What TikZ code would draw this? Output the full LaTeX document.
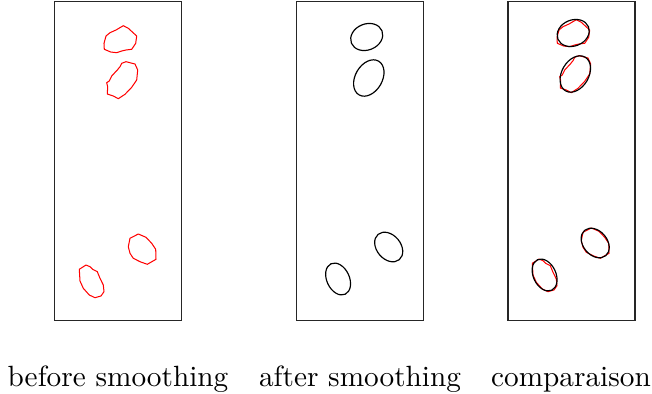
\documentclass[tikz,border=0pt]{standalone}
\usetikzlibrary{positioning}

\tikzset{
  frame/.style={draw=black!85, line width=0.35pt},
  raw/.style={draw=red, line width=0.35pt, line join=round},
  fitted/.style={draw=black, line width=0.4pt},
  caption/.style={anchor=base, inner sep=0pt}
}

% contours as extracted (red)
\newcommand{\rawblobs}{%
  \draw[raw] plot coordinates {(123.3,25.7) (128.3,28.3) (136.7,36) (135.7,43.3) (131.7,49.3) (126,50)
    (121.7,51) (116.7,52.7) (110.7,52) (104.3,49.3) (104,43.3) (106,36) (110,32.7) (116,30)} -- cycle;
  \draw[raw] plot coordinates {(126,61.7) (135,64) (137.7,70) (136.7,80) (131.7,87.3) (125,94.3)
    (118.3,98.7) (113.3,96) (107.3,94) (107.7,86.7) (106.7,82.7) (109.3,81) (111.7,76) (117.3,70)
    (120,66.7) (121.7,63.3)} -- cycle;
  \draw[raw] plot coordinates {(138.3,234) (146,237.3) (151.7,243.3) (155.7,249.3) (156,259.3)
    (147.3,264.3) (140,261.7) (133.3,258.3) (130,253.3) (128.3,246.7) (130,238.3)} -- cycle;
  \draw[raw] plot coordinates {(86,265) (90,266.7) (92.7,269.3) (97.3,271.7) (100,278.3) (103.3,285)
    (104,291.7) (101,296) (95,297.7) (89.3,295) (83.3,288.3) (80,281) (79.3,269.3)} -- cycle;
}

% smoothed contours (black)
\newcommand{\smoothblobs}{%
  \draw[fitted, shift={(120.2,39)}, rotate=22] (0,0) ellipse [x radius=16.5, y radius=13];
  \draw[fitted, shift={(122.3,80)}, rotate=60] (0,0) ellipse [x radius=19.5, y radius=13.5];
  \draw[fitted, shift={(142.2,249)}, rotate=-50] (0,0) ellipse [x radius=16.5, y radius=12];
  \draw[fitted, shift={(91.6,281)}, rotate=-65] (0,0) ellipse [x radius=16.8, y radius=11.3];
}

\begin{document}
\begin{tikzpicture}[x=0.3415pt, y=-0.3415pt]
\useasboundingbox (0,0) rectangle (652,394);

% panels
\draw[frame] (54.5,1.5) rectangle (181.5,320.5);
\draw[frame] (296.5,1.5) rectangle (423.5,320.5);
\draw[frame] (508,1.5) rectangle (635,320.5);

\rawblobs
\begin{scope}[shift={(246.5,-2)}]
  \smoothblobs
\end{scope}
\begin{scope}[shift={(453,-6)}]
  \rawblobs
  \smoothblobs
\end{scope}

\node[caption] (before) at (118,386) {before smoothing};
\node[caption] (after) at (360,386) {after smoothing};
\node[caption] (compare) at (571,386) {comparaison};
\end{tikzpicture}
\end{document}
